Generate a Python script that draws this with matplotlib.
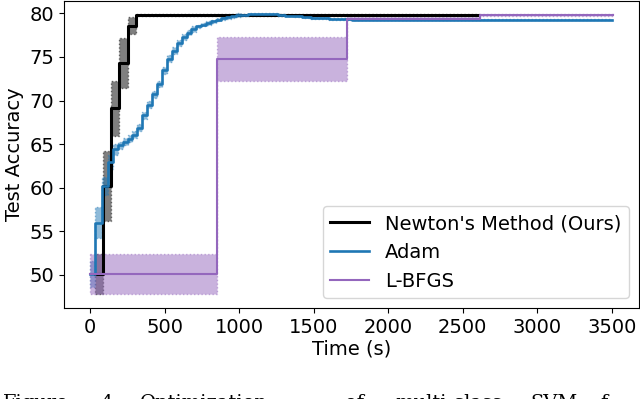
import numpy as np
import matplotlib.pyplot as plt

# values
# ---

# Newton's method: step times (s), mean test accuracy and spread
newton_t = [36, 87, 137, 197, 252, 308, 2610]
newton_acc = [50.1, 60.2, 69.1, 74.3, 78.6, 79.8, 79.8]
newton_std = [2.3, 4.0, 3.2, 2.9, 1.0, 0.1, 0.1]

# Adam
adam_t = [0, 36, 80, 123, 152, 185, 218, 251, 284, 317, 350, 383, 416, 449,
          482, 515, 548, 581, 614, 647, 680, 713, 746, 779, 812, 845, 878,
          911, 944, 977, 1010, 1060, 1110, 1160, 1210, 1260, 1310, 1360,
          1420, 1480, 1540, 1600, 1680, 1760, 2200, 3500]
adam_acc = [50.1, 56.0, 60.2, 62.9, 64.4, 64.9, 65.3, 65.6, 66.1, 66.9, 68.3,
            69.5, 70.7, 71.9, 73.5, 74.8, 75.7, 76.6, 77.3, 77.8, 78.2, 78.5,
            78.7, 78.9, 79.1, 79.3, 79.5, 79.6, 79.7, 79.8, 79.85, 79.9, 79.95,
            79.95, 79.9, 79.8, 79.75, 79.7, 79.6, 79.5, 79.45, 79.4, 79.35,
            79.3, 79.3, 79.3]
adam_std = [1.5, 1.8, 1.0, 0.8, 0.6, 0.4, 0.4, 0.4, 0.4, 0.4, 0.4, 0.4, 0.4,
            0.4, 0.4, 0.4, 0.4, 0.3, 0.3, 0.3, 0.3, 0.2, 0.2, 0.2, 0.2, 0.2,
            0.2, 0.2, 0.2, 0.2, 0.1, 0.1, 0.1, 0.1, 0.1, 0.1, 0.1, 0.1, 0.1,
            0.1, 0.1, 0.1, 0.1, 0.1, 0.1, 0.1]

# L-BFGS
lbfgs_t = [0, 850, 1722, 2613, 3505]
lbfgs_acc = [50.1, 74.8, 79.4, 79.8, 79.8]
lbfgs_std = [2.3, 2.5, 0.15, 0.1, 0.1]

caption_words = ['Figure', '4:', 'Optimization', 'of', 'multi-class', 'SVM', 'f']
caption_x = [3, 100, 140, 345, 395, 530, 600]


# plot
# ---

plt.rcParams['font.size'] = 14
fig = plt.figure(figsize=(6.4, 3.99), dpi=100)
ax = fig.add_axes([0.1, 0.228, 0.898, 0.769])


def draw(t, acc, std, color, fill, lw, label):
    t = np.array(t); acc = np.array(acc); std = np.array(std)
    ax.fill_between(t, acc - std, acc + std, step='post', color=fill,
                    alpha=0.5, linestyle=':')
    ax.step(t, acc, where='post', color=color, lw=lw, label=label)


draw(newton_t, newton_acc, newton_std, 'black', 'black', 2.2, "Newton's Method (Ours)")
draw(adam_t, adam_acc, adam_std, 'tab:blue', 'tab:blue', 1.9, 'Adam')
draw(lbfgs_t, lbfgs_acc, lbfgs_std, 'tab:purple', 'tab:purple', 1.5, 'L-BFGS')

ax.set_xlim(-175, 3680)
ax.set_ylim(46.2, 81.4)
ax.set_xticks(np.arange(0, 3501, 500))
ax.set_yticks(np.arange(50, 81, 5))
ax.set_xlabel('Time (s)', labelpad=2)
ax.set_ylabel('Test Accuracy')
ax.legend(loc='lower right')

# caption of the paper, cut by the bottom edge
for w, xp in zip(caption_words, caption_x):
    fig.text(xp / 640, 1 - 394 / 399, w, family='DejaVu Serif', fontsize=14,
             va='top', ha='left')

fig.savefig('out.png', dpi=100)
plt.close()
